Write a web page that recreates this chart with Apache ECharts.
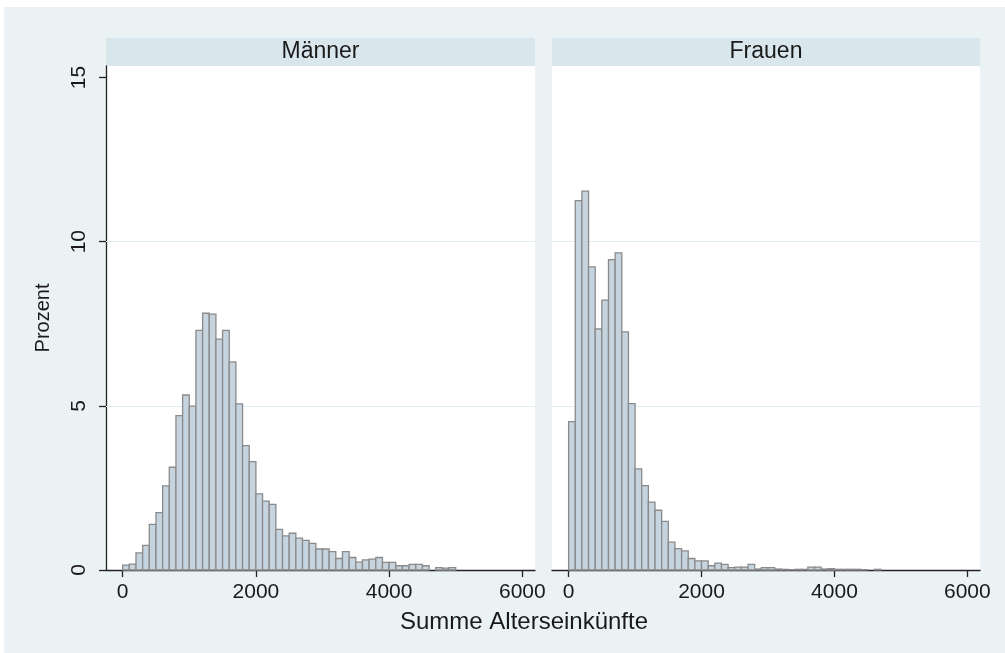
<!DOCTYPE html>
<html lang="de" style="height: 100%">
<head>
  <meta charset="utf-8">
</head>
<body style="height: 100%; margin: 0; background: #fff">
  <div id="container" style="width: 1005px; height: 653px"></div>

  <script type="text/javascript" src="https://cdn.jsdelivr.net/npm/echarts@6/dist/echarts.min.js"></script>

  <script type="text/javascript">
    // Histogramm: Prozent je Klasse von 100 (Start bei 0)
    var binWidth = 100;
    var panels = ['Männer', 'Frauen'];
    var maenner = [0.15, 0.18, 0.52, 0.75, 1.39, 1.75, 2.56, 3.13, 4.70, 5.33,
                   4.99, 7.30, 7.82, 7.79, 7.03, 7.30, 6.34, 5.06, 3.79, 3.30,
                   2.32, 2.10, 2.00, 1.24, 1.04, 1.12, 0.97, 0.90, 0.81, 0.64,
                   0.64, 0.56, 0.35, 0.56, 0.38, 0.24, 0.31, 0.33, 0.38, 0.23,
                   0.23, 0.13, 0.13, 0.17, 0.17, 0.13, 0, 0.07, 0.06, 0.07];
    var frauen = [4.52, 11.25, 11.54, 9.23, 7.34, 8.22, 9.45, 9.66, 7.25, 5.07,
                  3.08, 2.57, 2.07, 1.82, 1.48, 0.85, 0.65, 0.58, 0.35, 0.28,
                  0.28, 0.13, 0.21, 0.17, 0.07, 0.09, 0.09, 0.17, 0.03, 0.07,
                  0.07, 0.03, 0.02, 0.01, 0.02, 0.02, 0.09, 0.09, 0.03, 0.04,
                  0.02, 0.02, 0.02, 0.02, 0.01, 0, 0.02];
    var xTicks = [0, 2000, 4000, 6000];
    var yTicks = [0, 5, 10, 15];
    var yGrid = [5, 10];

    var dom = document.getElementById('container');
    var myChart = echarts.init(dom, null, { renderer: 'canvas' });

    var font = 'Liberation Sans, Arial, sans-serif';
    var grids = [
      { left: 106, top: 66, width: 429, height: 504 },
      { left: 552, top: 66, width: 428, height: 504 }
    ];

    function toBins(values) {
      return values.map(function (v, i) {
        return [i * binWidth, (i + 1) * binWidth, v];
      });
    }

    function renderBar(params, api) {
      if (api.value(2) <= 0) return null;
      var p0 = api.coord([api.value(0), api.value(2)]);
      var p1 = api.coord([api.value(1), 0]);
      return {
        type: 'rect',
        shape: { x: p0[0], y: p0[1], width: p1[0] - p0[0], height: p1[1] - p0[1] },
        style: { fill: '#c6d4e0', stroke: '#8a8a8a', lineWidth: 1.3 }
      };
    }

    function xAxis(i) {
      return {
        type: 'value', gridIndex: i, min: -250, max: 6190,
        axisLine: { show: true, onZero: false, lineStyle: { color: '#222', width: 1.3 } },
        axisTick: { show: true, length: 7, customValues: xTicks, lineStyle: { color: '#222', width: 1.3 } },
        axisLabel: {
          customValues: xTicks, margin: 12, color: '#1a1a1a', fontSize: 21, fontFamily: font,
          formatter: function (v) { return String(v); }
        },
        splitLine: { show: false }
      };
    }

    function yAxis(i) {
      return {
        type: 'value', gridIndex: i, min: 0, max: 15.35,
        name: i === 0 ? 'Prozent' : '',
        nameLocation: 'middle', nameGap: 53,
        nameTextStyle: { color: '#1a1a1a', fontSize: 20, fontFamily: font },
        axisLine: { show: i === 0, onZero: false, lineStyle: { color: '#222', width: 1.3 } },
        axisTick: { show: i === 0, length: 7, customValues: yTicks, lineStyle: { color: '#222', width: 1.3 } },
        axisLabel: { show: i === 0, customValues: yTicks, rotate: 90, margin: 16, color: '#1a1a1a', fontSize: 21, fontFamily: font },
        splitLine: { show: false }
      };
    }

    function gridSeries(i) {
      return {
        type: 'line', xAxisIndex: i, yAxisIndex: i, data: [], z: 1, silent: true,
        markLine: {
          silent: true, symbol: 'none', z: 1, label: { show: false },
          lineStyle: { color: '#e2edef', width: 1, type: 'solid' },
          data: yGrid.map(function (v) { return { yAxis: v }; })
        }
      };
    }

    var option = {
      backgroundColor: '#fff',
      animation: false,
      graphic: [
        { type: 'rect', z: -10, shape: { x: 4, y: 7, width: 1001, height: 646 }, style: { fill: '#eaf2f4' } },
        { type: 'rect', z: -5, shape: { x: 106, y: 38, width: 429, height: 28 }, style: { fill: '#d9e6ec' } },
        { type: 'rect', z: -5, shape: { x: 552, y: 38, width: 428, height: 28 }, style: { fill: '#d9e6ec' } },
        { type: 'text', x: 320.5, y: 52, style: { text: panels[0], fill: '#1a1a1a', font: '23px ' + font, textAlign: 'center', textVerticalAlign: 'middle' } },
        { type: 'text', x: 766, y: 52, style: { text: panels[1], fill: '#1a1a1a', font: '23px ' + font, textAlign: 'center', textVerticalAlign: 'middle' } },
        { type: 'text', x: 524, y: 622, style: { text: 'Summe Alterseinkünfte', fill: '#1a1a1a', font: '24px ' + font, textAlign: 'center', textVerticalAlign: 'middle' } }
      ],
      grid: grids.map(function (g) {
        return Object.assign({ show: true, backgroundColor: '#fff', borderWidth: 0 }, g);
      }),
      xAxis: [xAxis(0), xAxis(1)],
      yAxis: [yAxis(0), yAxis(1)],
      series: [
        gridSeries(0),
        gridSeries(1),
        {
          name: panels[0], type: 'custom', xAxisIndex: 0, yAxisIndex: 0, z: 3,
          renderItem: renderBar, encode: { x: [0, 1], y: 2 }, data: toBins(maenner)
        },
        {
          name: panels[1], type: 'custom', xAxisIndex: 1, yAxisIndex: 1, z: 3,
          renderItem: renderBar, encode: { x: [0, 1], y: 2 }, data: toBins(frauen)
        }
      ]
    };

    myChart.setOption(option);
    window.addEventListener('resize', myChart.resize);
  </script>
</body>
</html>
